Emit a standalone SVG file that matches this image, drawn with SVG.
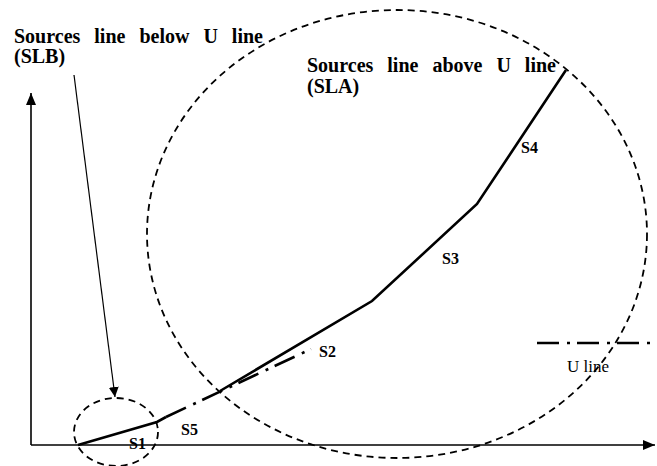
<svg xmlns="http://www.w3.org/2000/svg" width="657" height="466" viewBox="0 0 657 466">
<style>
.lbl{font-family:"Liberation Serif","Times New Roman",serif;font-weight:bold;fill:#000}
.title{font-size:20px;word-spacing:9px}
.s{font-size:16px}
.reg{font-family:"Liberation Serif","Times New Roman",serif;font-size:17px;fill:#000}
.dash{fill:none;stroke:#000;stroke-width:1.8;stroke-dasharray:7 5}
.solid{fill:none;stroke:#000;stroke-width:2.6;stroke-linejoin:miter}
.dd{fill:none;stroke:#000;stroke-width:2.6;stroke-dasharray:22 8 3 7}
.axis{fill:none;stroke:#000;stroke-width:1.6}
</style>
<defs>
<marker id="ah" viewBox="0 0 10 10" refX="10" refY="5" markerWidth="10" markerHeight="10" markerUnits="userSpaceOnUse" orient="auto">
<path d="M0,0 L10,5 L0,10 Z" fill="#000"/>
</marker>
<marker id="axh" viewBox="0 0 12 10" refX="12" refY="5" markerWidth="12" markerHeight="10" markerUnits="userSpaceOnUse" orient="auto">
<path d="M0,0 L12,5 L0,10 Z" fill="#000"/>
</marker>
</defs>
<rect width="657" height="466" fill="#fff"/>
<g id="axes">
<line class="axis" x1="31" y1="445" x2="31" y2="93" marker-end="url(#axh)"/>
<line class="axis" x1="31" y1="445" x2="655" y2="445" marker-end="url(#axh)"/>
</g>
<g id="SLA">
<ellipse class="dash" cx="397" cy="234" rx="250" ry="224"/>
<text class="lbl title" x="307" y="72">Sources line above U line</text>
<text class="lbl title" x="307" y="93">(SLA)</text>
</g>
<g id="SLB">
<ellipse class="dash" cx="116" cy="432" rx="42" ry="34"/>
<text class="lbl title" x="14" y="43">Sources line below U line</text>
<text class="lbl title" x="14" y="63">(SLB)</text>
</g>
<g id="connectors">
<line x1="74" y1="75" x2="115" y2="397" stroke="#000" stroke-width="1.2" marker-end="url(#ah)"/>
<polyline class="solid" points="78,445 157,422 166,417"/>
<line class="dd" x1="166" y1="417" x2="311" y2="349" stroke-dasharray="0 12 3 7 26 7 3 7 26 7 3 7 26 7 3 7"/>
<polyline class="solid" points="220,391 372,301 477,204 566,70"/>
</g>
<g id="labels">
<text class="lbl s" x="129" y="449">S1</text>
<text class="lbl s" x="181" y="435">S5</text>
<text class="lbl s" x="319" y="357">S2</text>
<text class="lbl s" x="442" y="264">S3</text>
<text class="lbl s" x="521" y="153">S4</text>
</g>
<g id="legend">
<line class="dd" x1="537" y1="343" x2="651" y2="343"/>
<text class="reg" x="567" y="372">U line</text>
</g>
</svg>
